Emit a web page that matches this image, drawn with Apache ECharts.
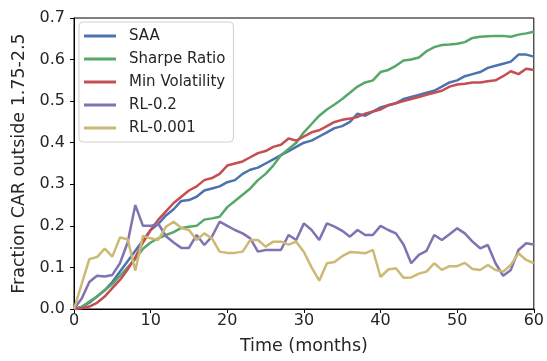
<!DOCTYPE html>
<html>
<head>
<meta charset="utf-8">
<script src="https://cdn.jsdelivr.net/npm/echarts@6/dist/echarts.min.js"></script>
<style>html,body{margin:0;padding:0;background:#fff;}#c{width:547px;height:361px;}</style>
</head>
<body>
<div id="c"></div>
<script>
const months = Array.from({length: 61}, (_, i) => i);
const saa = [0,0.005,0.015,0.03,0.045,0.065,0.09,0.115,0.14,0.165,0.19,0.205,0.225,0.24,0.26,0.262,0.27,0.285,0.29,0.295,0.305,0.31,0.325,0.335,0.34,0.35,0.36,0.37,0.38,0.39,0.4,0.405,0.415,0.425,0.435,0.44,0.45,0.47,0.465,0.475,0.485,0.49,0.495,0.505,0.51,0.515,0.52,0.525,0.535,0.545,0.55,0.56,0.565,0.57,0.58,0.585,0.59,0.595,0.612,0.612,0.607];
const sharpe = [0,0.005,0.018,0.03,0.045,0.06,0.08,0.1,0.12,0.145,0.16,0.17,0.178,0.185,0.195,0.198,0.2,0.215,0.218,0.222,0.245,0.26,0.275,0.29,0.31,0.325,0.345,0.37,0.385,0.4,0.425,0.445,0.465,0.48,0.492,0.505,0.52,0.535,0.545,0.55,0.57,0.575,0.585,0.598,0.6,0.605,0.62,0.63,0.635,0.636,0.638,0.642,0.652,0.655,0.656,0.657,0.657,0.655,0.66,0.663,0.667];
const minVol = [0,0.002,0.006,0.015,0.03,0.05,0.07,0.095,0.125,0.16,0.19,0.215,0.235,0.255,0.27,0.285,0.295,0.31,0.315,0.325,0.345,0.35,0.355,0.365,0.375,0.38,0.39,0.395,0.41,0.405,0.415,0.425,0.43,0.44,0.45,0.455,0.458,0.462,0.47,0.475,0.48,0.49,0.495,0.5,0.505,0.51,0.515,0.52,0.525,0.535,0.54,0.542,0.545,0.545,0.548,0.55,0.56,0.572,0.565,0.578,0.575];
const rl02 = [0,0.025,0.065,0.08,0.078,0.082,0.11,0.16,0.25,0.2,0.2,0.205,0.175,0.16,0.147,0.147,0.178,0.154,0.174,0.21,0.2,0.19,0.182,0.17,0.138,0.142,0.142,0.142,0.178,0.166,0.206,0.19,0.166,0.206,0.198,0.188,0.174,0.19,0.178,0.178,0.2,0.19,0.182,0.155,0.11,0.13,0.14,0.178,0.166,0.18,0.194,0.182,0.162,0.146,0.154,0.11,0.08,0.094,0.142,0.158,0.155];
const rl0001 = [0,0.06,0.12,0.125,0.145,0.126,0.172,0.168,0.092,0.176,0.17,0.166,0.198,0.21,0.195,0.19,0.166,0.182,0.17,0.138,0.135,0.135,0.138,0.166,0.166,0.15,0.162,0.162,0.155,0.162,0.137,0.1,0.068,0.11,0.113,0.127,0.137,0.136,0.134,0.142,0.077,0.095,0.098,0.075,0.076,0.085,0.09,0.11,0.094,0.103,0.103,0.111,0.096,0.094,0.106,0.094,0.09,0.106,0.134,0.118,0.11];
const seriesNames = ['SAA','Sharpe Ratio','Min Volatility','RL-0.2','RL-0.001'];
const seriesColors = ['#4C72B0','#55A868','#C44E52','#8172B2','#CCB974'];
const seriesData = [saa, sharpe, minVol, rl02, rl0001];
const xTicks = [0,10,20,30,40,50,60];
const yTicks = [0,0.1,0.2,0.3,0.4,0.5,0.6,0.7];

const font = 'DejaVu Sans';
const chart = echarts.init(document.getElementById('c'));
chart.setOption({
  animation: false,
  backgroundColor: '#fff',
  grid: {left: 74, right: 8, top: 18, bottom: 52, show: true, borderColor: '#000', borderWidth: 1, backgroundColor: 'transparent'},
  legend: {
    orient: 'vertical', left: 79, top: 22,
    data: seriesNames,
    icon: 'rect', itemWidth: 32, itemHeight: 3, itemGap: 7,
    backgroundColor: 'rgba(255,255,255,0.8)', borderColor: '#d0d0d0', borderWidth: 1, borderRadius: 4,
    padding: [6, 8, 6, 5],
    textStyle: {fontFamily: font, fontSize: 15, color: '#262626', lineHeight: 16, padding: [0, 0, 0, 8]}
  },
  xAxis: {
    type: 'value', min: 0, max: 60, interval: 10,
    name: 'Time (months)', nameLocation: 'middle', nameGap: 28,
    nameTextStyle: {fontFamily: font, fontSize: 17.5, color: '#262626'},
    axisLine: {show: true, lineStyle: {color: '#000', width: 1}},
    axisTick: {show: true, length: 4, lineStyle: {color: '#000'}},
    axisLabel: {fontFamily: font, fontSize: 16, color: '#262626', margin: 4,
      formatter: v => xTicks.includes(v) ? String(v) : ''},
    splitLine: {show: false}
  },
  yAxis: {
    type: 'value', min: 0, max: 0.7, interval: 0.1,
    name: 'Fraction CAR outside 1.75-2.5', nameLocation: 'middle', nameGap: 46,
    nameTextStyle: {fontFamily: font, fontSize: 17.5, color: '#262626'},
    axisLine: {show: true, lineStyle: {color: '#000', width: 1}},
    axisTick: {show: true, length: 4, lineStyle: {color: '#000'}},
    axisLabel: {fontFamily: font, fontSize: 16, color: '#262626', margin: 9,
      formatter: v => v.toFixed(1)},
    splitLine: {show: false}
  },
  series: seriesNames.map((n, i) => ({
    name: n, type: 'line', showSymbol: false, symbol: 'none',
    data: months.map((m, j) => [m, seriesData[i][j]]),
    lineStyle: {color: seriesColors[i], width: 2.5},
    itemStyle: {color: seriesColors[i]}
  }))
});
</script>
</body>
</html>
